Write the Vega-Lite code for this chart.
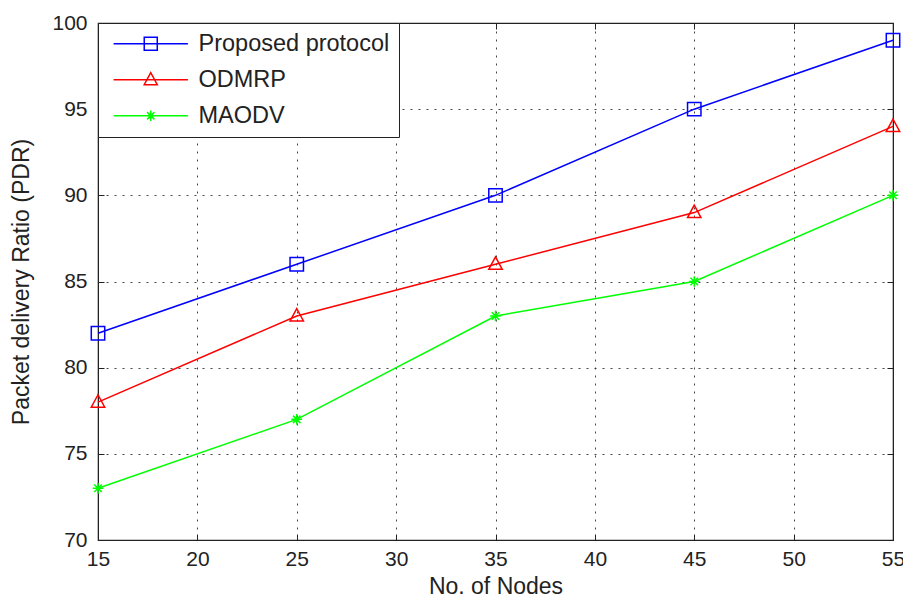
{
  "$schema": "https://vega.github.io/schema/vega-lite/v6.json",
  "width": 795,
  "height": 517,
  "autosize": {"type": "none"},
  "padding": {"left": 98, "top": 23, "right": 10, "bottom": 60},
  "background": "white",
  "config": {
    "view": {"stroke": "#222", "strokeWidth": 1.2},
    "font": "Liberation Sans",
    "axis": {
      "labelFont": "Liberation Sans",
      "titleFont": "Liberation Sans",
      "labelFontSize": 21,
      "titleFontSize": 23,
      "titleFontWeight": "normal",
      "labelColor": "#222",
      "titleColor": "#222",
      "domainColor": "#222",
      "tickColor": "#222",
      "gridColor": "#333",
      "gridDash": [2, 6],
      "gridWidth": 1,
      "gridOpacity": 0.9
    },
    "legend": {
      "orient": "top-left",
      "offset": 0,
      "padding": 9,
      "strokeColor": "#222",
      "fillColor": "white",
      "labelFont": "Liberation Sans",
      "labelFontSize": 23.5,
      "labelColor": "#222",
      "labelLimit": 400,
      "symbolSize": 170,
      "symbolStrokeWidth": 1.5,
      "symbolOffset": 32,
      "labelOffset": 36,
      "rowPadding": 11
    }
  },
  "data": {
    "values": [
      {"nodes": 15, "pdr": 82, "series": "Proposed protocol"},
      {"nodes": 25, "pdr": 86, "series": "Proposed protocol"},
      {"nodes": 35, "pdr": 90, "series": "Proposed protocol"},
      {"nodes": 45, "pdr": 95, "series": "Proposed protocol"},
      {"nodes": 55, "pdr": 99, "series": "Proposed protocol"},
      {"nodes": 15, "pdr": 78, "series": "ODMRP"},
      {"nodes": 25, "pdr": 83, "series": "ODMRP"},
      {"nodes": 35, "pdr": 86, "series": "ODMRP"},
      {"nodes": 45, "pdr": 89, "series": "ODMRP"},
      {"nodes": 55, "pdr": 94, "series": "ODMRP"},
      {"nodes": 15, "pdr": 73, "series": "MAODV"},
      {"nodes": 25, "pdr": 77, "series": "MAODV"},
      {"nodes": 35, "pdr": 83, "series": "MAODV"},
      {"nodes": 45, "pdr": 85, "series": "MAODV"},
      {"nodes": 55, "pdr": 90, "series": "MAODV"}
    ]
  },
  "encoding": {
    "color": {
      "field": "series", "type": "nominal",
      "scale": {"domain": ["Proposed protocol", "ODMRP", "MAODV"], "range": ["#0000ff", "#ff0000", "#00ff00"]},
      "legend": {
        "title": null,
        "symbolType": "stroke",
        "encode": {
          "symbols": {
            "update": {
              "shape": {"signal": "datum.value === 'Proposed protocol' ? 'M-5.7,0H5.7M-1,-1H1V1H-1Z' : datum.value === 'ODMRP' ? 'M-5.7,0H5.7M0,-1.1L1,0.75H-1Z' : 'M-5.7,0H5.7M-0.8,0H0.8M0,-0.8V0.8M-0.56,-0.56L0.56,0.56M-0.56,0.56L0.56,-0.56'"},
              "fill": {"value": "transparent"},
              "strokeWidth": {"value": 1.5}
            }
          }
        }
      }
    }
  },
  "layer": [
    {
      "mark": {"type": "line", "strokeWidth": 1.5},
      "encoding": {
        "x": {
          "field": "nodes", "type": "quantitative",
          "scale": {"domain": [15, 55], "nice": false, "zero": false},
          "axis": {"values": [15, 20, 25, 30, 35, 40, 45, 50, 55], "title": "No. of Nodes", "grid": true, "tickSize": -6, "labelPadding": 14, "titlePadding": 6, "labelFlush": false}
        },
        "y": {
          "field": "pdr", "type": "quantitative",
          "scale": {"domain": [70, 100], "nice": false, "zero": false},
          "axis": {"values": [70, 75, 80, 85, 90, 95, 100], "title": "Packet delivery Ratio (PDR)", "grid": true, "tickSize": -6, "labelPadding": 17, "titlePadding": 18, "labelFlush": false}
        }
      }
    },
    {
      "transform": [{"filter": "datum.series === 'Proposed protocol'"}],
      "mark": {"type": "point", "filled": false, "strokeWidth": 1.5, "size": 180, "opacity": 1, "shape": "M-1,-1H1V1H-1Z"},
      "encoding": {
        "x": {
          "field": "nodes", "type": "quantitative",
          "axis": {"orient": "top", "values": [15, 20, 25, 30, 35, 40, 45, 50, 55], "labels": false, "title": null, "grid": false, "tickSize": -6}
        },
        "y": {
          "field": "pdr", "type": "quantitative",
          "axis": {"orient": "right", "values": [70, 75, 80, 85, 90, 95, 100], "labels": false, "title": null, "grid": false, "tickSize": -6}
        }
      }
    },
    {
      "transform": [{"filter": "datum.series === 'ODMRP'"}],
      "mark": {"type": "point", "filled": false, "strokeWidth": 1.5, "size": 180, "opacity": 1, "shape": "M0,-1.1L1,0.75H-1Z"},
      "encoding": {
        "x": {"field": "nodes", "type": "quantitative", "axis": null},
        "y": {"field": "pdr", "type": "quantitative", "axis": null}
      }
    },
    {
      "transform": [{"filter": "datum.series === 'MAODV'"}],
      "mark": {"type": "point", "filled": false, "strokeWidth": 1.5, "size": 180, "opacity": 1, "shape": "M-0.8,0H0.8M0,-0.8V0.8M-0.56,-0.56L0.56,0.56M-0.56,0.56L0.56,-0.56"},
      "encoding": {
        "x": {"field": "nodes", "type": "quantitative", "axis": null},
        "y": {"field": "pdr", "type": "quantitative", "axis": null}
      }
    }
  ],
  "resolve": {"axis": {"x": "independent", "y": "independent"}}
}
